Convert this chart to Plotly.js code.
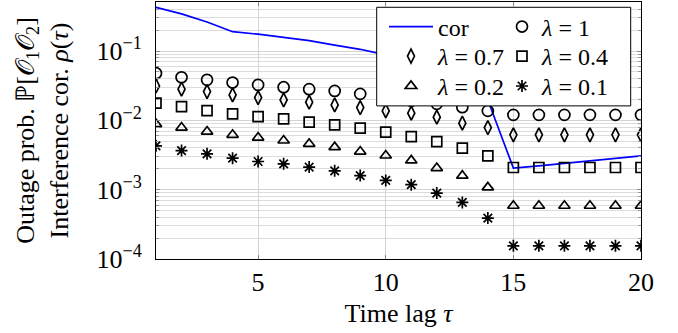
<!DOCTYPE html>
<html>
<head>
<meta charset="utf-8">
<script src="https://cdn.plot.ly/plotly-3.0.1.min.js"></script>
<style>html,body{margin:0;padding:0;background:#fff;}#chart{width:678px;height:333px;}</style>
</head>
<body>
<div id="chart"></div>
<script>
const tau = [1,2,3,4,5,6,7,8,9,10,11,12,13,14,15,16,17,18,19,20];
const cor = [0.428,0.343,0.262,0.190,0.175,0.158,0.141,0.122,0.106,0.0879,0.0720,0.0571,0.0424,0.0197,0.00205,0.00221,0.00239,0.00261,0.00283,0.00308];
const lam1 = [0.0479,0.0418,0.0384,0.0351,0.0325,0.0301,0.0282,0.0266,0.0241,0.0218,0.0191,0.0173,0.0155,0.0137,0.0120,0.0120,0.0120,0.0120,0.0120,0.0120];
const lam07 = [0.0314,0.0282,0.0260,0.0233,0.0213,0.0197,0.0183,0.0167,0.0153,0.0137,0.0127,0.0111,0.00912,0.00787,0.00618,0.00618,0.00618,0.00618,0.00618,0.00618];
const lam04 = [0.0177,0.0158,0.0138,0.0124,0.0113,0.0105,0.00942,0.00861,0.00772,0.00676,0.00584,0.00495,0.00398,0.00308,0.00209,0.00209,0.00209,0.00209,0.00209,0.00209];
const lam02 = [0.00882,0.00787,0.00690,0.00618,0.00565,0.00512,0.00459,0.00411,0.00355,0.00311,0.00264,0.00205,0.00159,0.00108,0.000586,0.000586,0.000586,0.000586,0.000586,0.000586];
const lam01 = [0.00429,0.00367,0.00329,0.00285,0.00255,0.00236,0.00212,0.00187,0.00160,0.00136,0.00118,0.000893,0.000654,0.000390,0.000155,0.000155,0.000155,0.000155,0.000155,0.000155];
const yTickVals = [1e-4,1e-3,1e-2,1e-1];
const yTickText = ['10<sup>−4</sup>','10<sup>−3</sup>','10<sup>−2</sup>','10<sup>−1</sup>'];
const xTickVals = [5,10,15,20];

const FONT = 'Liberation Serif, Times New Roman, serif';
const mk = (sym, size) => ({symbol: sym, size: size, color: '#000', line: {color: '#000', width: 1.7}});

const traces = [
  {x: tau, y: cor, mode: 'lines', name: 'cor', line: {color: 'rgb(0,0,255)', width: 1.7}, legend: 'legend'},
  {x: tau, y: lam1, mode: 'markers', name: '<i>λ</i> = 1', marker: mk('circle-open', 11), legend: 'legend2'},
  {x: tau, y: lam07, mode: 'markers', name: '<i>λ</i> = 0.7', marker: mk('diamond-tall-open', 10), legend: 'legend3'},
  {x: tau, y: lam04, mode: 'markers', name: '<i>λ</i> = 0.4', marker: mk('square-open', 10), legend: 'legend4'},
  {x: tau, y: lam02, mode: 'markers', name: '<i>λ</i> = 0.2', marker: mk('triangle-up-open', 10), legend: 'legend5'},
  {x: tau, y: lam01, mode: 'markers', name: '<i>λ</i> = 0.1', marker: mk('asterisk-open', 10), legend: 'legend6'}
];

// plot-area geometry (px) used only to place the legend pieces
const PL = 156, PW = 485, PB = 259.3, PH = 257.3;
const px = v => (v - PL) / PW;
const py = v => (PB - v) / PH;
const col1 = 384, col2 = 502;
const rows = [27, 56.5, 86.5];
const leg = (x, yRow, extra) => Object.assign({
  font: {family: FONT, size: 24, color: '#000'},
  bgcolor: 'rgba(0,0,0,0)', borderwidth: 0,
  xanchor: 'left', yanchor: 'middle', x: px(x), y: py(yRow)
}, extra || {});

const layout = {
  width: 678, height: 333,
  margin: {l: 156, r: 37, t: 2, b: 74},
  paper_bgcolor: '#fff', plot_bgcolor: '#fff',
  font: {family: FONT, size: 26, color: '#000'},
  showlegend: true,
  xaxis: {
    range: [1, 20], tickvals: xTickVals, ticks: 'inside', ticklen: 4, tickcolor: '#888',
    showgrid: true, gridcolor: '#d3d3d3', gridwidth: 1, zeroline: false,
    showline: true, linecolor: '#000', linewidth: 1, mirror: 'ticks',
    tickfont: {family: FONT, size: 26},
    title: {text: 'Time lag <i>τ</i>', font: {family: FONT, size: 26}, standoff: 7}
  },
  yaxis: {
    type: 'log', range: [-4, -0.2925], tickvals: yTickVals, ticktext: yTickText,
    ticks: 'inside', ticklen: 4, tickcolor: '#888',
    showgrid: true, gridcolor: '#d3d3d3', gridwidth: 1, zeroline: false,
    showline: true, linecolor: '#000', linewidth: 1, mirror: 'ticks',
    minor: {dtick: 'D1', showgrid: true, gridcolor: '#dcdcdc', ticks: 'inside', ticklen: 3, tickcolor: '#999'},
    tickfont: {family: FONT, size: 26},
    ticklabelstandoff: 8,
    title: {text: 'Outage prob. ℙ[𝒪<sub>1</sub>𝒪<sub>2</sub>]<br>Interference cor. <i>ρ</i>(<i>τ</i>)', font: {family: FONT, size: 26}, standoff: 20}
  },
  shapes: [
    {type: 'rect', xref: 'paper', yref: 'paper', layer: 'above',
     x0: px(376.7), x1: px(630.7), y0: py(106), y1: py(7.3),
     fillcolor: '#fff', line: {color: '#000', width: 1}}
  ],
  legend: leg(col1, rows[0], {itemwidth: 44}),
  legend2: leg(col2, rows[0]),
  legend3: leg(col1, rows[1], {itemwidth: 44}),
  legend4: leg(col2, rows[1]),
  legend5: leg(col1, rows[2], {itemwidth: 44}),
  legend6: leg(col2, rows[2])
};

Plotly.newPlot('chart', traces, layout, {displayModeBar: false, staticPlot: true});
</script>
</body>
</html>
